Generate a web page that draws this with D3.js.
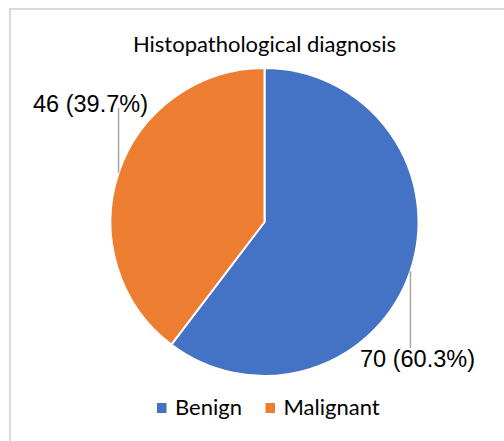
<!DOCTYPE html>
<html>
<head>
<meta charset="utf-8">
<script src="https://cdn.jsdelivr.net/npm/d3@7"></script>
<style>
  body { margin: 0; background: #fff; }
  svg { display: block; }
</style>
</head>
<body>
<div id="chart"></div>
<script>
// data
const categories = ['Benign', 'Malignant'];
const counts = [70, 46];
const percentLabels = ['60.3%', '39.7%'];
const colors = ['#4472c4', '#ed7d31'];

const width = 504, height = 441;
const cx = 264.5, cy = 222, radius = 154;

const svg = d3.select('#chart').append('svg')
  .attr('width', width)
  .attr('height', height);

// frame (only left and top visible)
svg.append('path')
  .attr('d', `M10,${height} L10,9 L${width},9`)
  .attr('fill', 'none')
  .attr('stroke', '#d9d9d9')
  .attr('stroke-width', 2);

svg.append('text')
  .attr('x', cx)
  .attr('y', 52)
  .attr('text-anchor', 'middle')
  .style('font-family', 'Lato, "Open Sans", sans-serif')
  .style('font-size', '22px')
  .attr('fill', '#000')
  .text('Histopathological diagnosis');

const data = categories.map((c, i) => ({ key: c, value: counts[i], pct: percentLabels[i], color: colors[i] }));

const pie = d3.pie().sort(null).value(d => d.value);
const arc = d3.arc().innerRadius(0).outerRadius(radius);
const arcs = pie(data);

const g = svg.append('g').attr('transform', `translate(${cx},${cy})`);

g.selectAll('path.slice')
  .data(arcs)
  .enter()
  .append('path')
  .attr('class', 'slice')
  .attr('d', arc)
  .attr('fill', d => d.data.color)
  .attr('stroke', '#fff')
  .attr('stroke-width', 2)
  .attr('stroke-linejoin', 'round');

// leader lines + labels (manual placement like the original)
const labelPos = {
  Benign: { y: 348, tx: 360, ty: 367, anchor: 'start' },
  Malignant: { y: 108, tx: 148, ty: 112, anchor: 'end' },
};

arcs.forEach(d => {
  const mid = (d.startAngle + d.endAngle) / 2;
  const px = Math.sin(mid) * radius;
  const py = -Math.cos(mid) * radius;
  const p = labelPos[d.data.key];
  g.append('line')
    .attr('x1', px).attr('y1', py)
    .attr('x2', px).attr('y2', p.y - cy)
    .attr('stroke', '#a6a6a6')
    .attr('stroke-width', 1.5);
  svg.append('text')
    .attr('x', p.tx)
    .attr('y', p.ty)
    .attr('text-anchor', p.anchor)
    .style('font-family', '"Liberation Sans", Arial, sans-serif')
    .style('font-size', '23.5px')
    .attr('fill', '#000')
    .text(`${d.data.value} (${d.data.pct})`);
});

// legend
const legendItems = [
  { key: 'Benign', x: 157 },
  { key: 'Malignant', x: 265.5 },
];
const legend = svg.append('g').selectAll('g')
  .data(legendItems)
  .enter()
  .append('g')
  .attr('transform', d => `translate(${d.x},403)`);

legend.append('rect')
  .attr('width', 9.5)
  .attr('height', 10)
  .attr('fill', d => colors[categories.indexOf(d.key)]);

legend.append('text')
  .attr('x', 18)
  .attr('y', 12)
  .style('font-family', 'Lato, "Open Sans", sans-serif')
  .style('font-size', '22px')
  .attr('fill', '#000')
  .text(d => d.key);
</script>
</body>
</html>
